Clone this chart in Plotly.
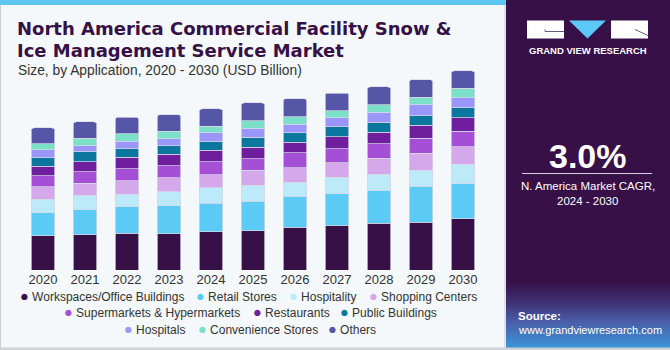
import plotly.graph_objects as go

# ---------------- data ----------------
years = ["2020", "2021", "2022", "2023", "2024", "2025", "2026", "2027", "2028", "2029", "2030"]
workspaces = [4.92, 5.11, 5.30, 5.26, 5.54, 5.69, 6.17, 6.41, 6.75, 6.94, 7.38]
retail = [3.33, 3.62, 3.86, 4.05, 4.15, 4.29, 4.48, 4.63, 4.68, 5.11, 5.06]
hospitality = [1.98, 2.07, 1.83, 1.98, 2.22, 2.31, 2.07, 2.36, 2.41, 2.36, 2.84]
shopping = [1.83, 1.74, 1.93, 2.07, 1.88, 2.12, 2.07, 2.12, 2.31, 2.51, 2.56]
supermarkets = [1.59, 1.69, 1.74, 1.74, 1.88, 1.69, 2.17, 2.02, 2.12, 2.12, 2.22]
restaurants = [1.35, 1.45, 1.64, 1.64, 1.64, 1.69, 1.49, 1.74, 1.64, 1.93, 1.93]
public_buildings = [1.25, 1.45, 1.25, 1.25, 1.25, 1.40, 1.40, 1.45, 1.45, 1.35, 1.49]
hospitals = [1.11, 0.87, 1.06, 1.01, 1.30, 1.30, 1.21, 1.30, 1.45, 1.59, 1.45]
convenience = [0.87, 1.06, 1.11, 1.06, 0.92, 1.11, 1.11, 1.01, 1.11, 1.06, 1.35]
others = [2.31, 2.36, 2.36, 2.41, 2.51, 2.56, 2.60, 2.56, 2.56, 2.56, 2.51]

series_names = ["Workspaces/Office Buildings", "Retail Stores", "Hospitality", "Shopping Centers",
                "Supermarkets & Hypermarkets", "Restaurants", "Public Buildings",
                "Hospitals", "Convenience Stores", "Others"]
series_values = [workspaces, retail, hospitality, shopping, supermarkets, restaurants,
                 public_buildings, hospitals, convenience, others]
colors = ["#371047", "#5BCBF5", "#BDEAF8", "#D5A8EC", "#A54FD6", "#6F1F9E",
          "#0B779E", "#9B96FA", "#7CE0C8", "#5556A5"]

highlight_year = "2022"
cagr_text = "3.0%"

# ---------------- layout geometry ----------------
W, H = 670, 350
ML, MR, MT, MB = 22, 186, 48, 80
PW, PH = W - ML - MR, H - MT - MB


def px(x):
    return (x - ML) / PW


def py(y):
    return (H - MB - y) / PH


fig = go.Figure()

for name, vals, col in zip(series_names, series_values, colors):
    fig.add_trace(go.Bar(
        x=years, y=vals, name=name, marker_color=col,
        marker_line=dict(color="rgba(215,215,230,0.9)", width=0.8),
        showlegend=False, hoverinfo="skip"))

# legend entries: one legend per entry so the spacing follows the reference
legend_pos = [  # (dot center x px, row center y px)
    (27, 296), (203, 296), (296, 296), (376, 296),
    (71, 312.5), (260, 312.5), (347, 312.5),
    (131, 329), (205, 329), (335, 329),
]
for i, (name, col) in enumerate(zip(series_names, colors)):
    lg = "legend" if i == 0 else f"legend{i + 1}"
    fig.add_trace(go.Scatter(
        x=[years[0]], y=[None], mode="markers",
        name=f'<span style="color:{col};font-size:14.5px">●</span> {name}',
        marker=dict(color="rgba(0,0,0,0)", size=0.1, line=dict(width=0)),
        legend=lg, showlegend=True, hoverinfo="skip"))

legend_layout = {}
for i, (cx, cy) in enumerate(legend_pos):
    lg = "legend" if i == 0 else f"legend{i + 1}"
    legend_layout[lg] = dict(
        xref="paper", yref="paper",
        x=px(cx - 47), y=py(cy), xanchor="left", yanchor="middle",
        bgcolor="rgba(0,0,0,0)", borderwidth=0,
        font=dict(family="Liberation Sans, Arial, sans-serif", size=12, color="#333333"),
        itemwidth=30, tracegroupgap=0)

shapes = []
# left panel background and border
shapes.append(dict(type="rect", xref="paper", yref="paper",
                   x0=px(0.5), x1=px(505), y0=py(348.5), y1=py(0),
                   fillcolor="#F4F8FB", line=dict(color="#CDD2D6", width=1.2), layer="below"))
# top stripe
shapes.append(dict(type="rect", xref="paper", yref="paper",
                   x0=px(0), x1=px(506), y0=py(5), y1=py(0),
                   fillcolor="#5CC6F0", line=dict(width=0), layer="below"))
# right dark panel
shapes.append(dict(type="rect", xref="paper", yref="paper",
                   x0=px(506), x1=px(670), y0=py(347), y1=py(0),
                   fillcolor="#371047", line=dict(width=0), layer="below"))


# gradient at bottom of right panel
def lerp(c1, c2, t):
    a = [int(c1[i:i + 2], 16) for i in (1, 3, 5)]
    b = [int(c2[i:i + 2], 16) for i in (1, 3, 5)]
    return "#%02x%02x%02x" % tuple(round(a[k] + (b[k] - a[k]) * t) for k in range(3))


stops = [(280, "#371047"), (300, "#3E2E70"), (320, "#4A5CA6"), (347, "#3C95DA")]
for yy in range(280, 347, 2):
    for (y0, c0), (y1, c1) in zip(stops[:-1], stops[1:]):
        if y0 <= yy < y1:
            col = lerp(c0, c1, (yy - y0) / (y1 - y0))
            break
    shapes.append(dict(type="rect", xref="paper", yref="paper",
                       x0=px(506), x1=px(670), y0=py(yy + 2), y1=py(yy),
                       fillcolor=col, line=dict(width=0), layer="below"))
# bottom grey border under right panel
shapes.append(dict(type="rect", xref="paper", yref="paper",
                   x0=px(0), x1=px(670), y0=py(350), y1=py(347.5),
                   fillcolor="#CDD2D6", line=dict(width=0), layer="below"))

# logo
shapes.append(dict(type="rect", xref="paper", yref="paper",
                   x0=px(527), x1=px(564), y0=py(38.5), y1=py(20.5),
                   fillcolor="white", line=dict(width=0)))
shapes.append(dict(type="rect", xref="paper", yref="paper",
                   x0=px(611), x1=px(648), y0=py(38.5), y1=py(20.5),
                   fillcolor="white", line=dict(width=0)))
shapes.append(dict(type="path", xref="paper", yref="paper",
                   path=f"M {px(569)} {py(20.5)} L {px(606)} {py(20.5)} L {px(587.5)} {py(38.5)} Z",
                   fillcolor="#5BC8F5", line=dict(width=0)))
shapes.append(dict(type="path", xref="paper", yref="paper",
                   path=f"M {px(545)} {py(29.5)} L {px(545)} {py(31.5)} L {px(564)} {py(31.5)}",
                   line=dict(color="#6B5A80", width=1)))
shapes.append(dict(type="line", xref="paper", yref="paper",
                   x0=px(635), x1=px(648), y0=py(29.5), y1=py(35.5),
                   line=dict(color="#6B5A80", width=1)))
# CAGR separator line
shapes.append(dict(type="line", xref="paper", yref="paper",
                   x0=px(522), x1=px(652), y0=py(173.5), y1=py(173.5),
                   line=dict(color="#D8D0E0", width=1)))

annotations = []
FONT = "Liberation Sans, Arial, sans-serif"


def text(x, y, s, size, color, bold=False, xanchor="left", yanchor="middle", family=FONT):
    annotations.append(dict(
        xref="paper", yref="paper", x=px(x), y=py(y), text=f"<b>{s}</b>" if bold else s,
        showarrow=False, xanchor=xanchor, yanchor=yanchor,
        font=dict(family=family, size=size, color=color)))


TFONT = "DejaVu Sans, Liberation Sans, sans-serif"
text(15, 28.5, "North America Commercial Facility Snow &", 18, "#361046", bold=True, family=TFONT)
text(15, 50, "Ice Management Service Market", 18, "#361046", bold=True, family=TFONT)
text(16, 70.5, "Size, by Application, 2020 - 2030 (USD Billion)", 13.8, "#333333")
text(587.5, 51, "GRAND VIEW RESEARCH", 9.5, "white", bold=True, xanchor="center")
text(587.5, 156, cagr_text, 34, "white", bold=True, xanchor="center")
text(587.5, 185.5, "N. America Market CAGR,", 11.5, "white", xanchor="center")
text(587.5, 201, "2024 - 2030", 11.5, "white", xanchor="center")
text(516, 316, "Source:", 11.5, "white", bold=True)
text(516, 330, "www.grandviewresearch.com", 11, "white")

# total label above highlighted year
idx = years.index(highlight_year)
total = sum(v[idx] for v in series_values)
annotations.append(dict(
    x=highlight_year, y=total, xref="x", yref="y", text=f"${total:.1f}B",
    showarrow=False, yanchor="bottom", yshift=6,
    font=dict(family=FONT, size=14, color="#333333")))

fig.update_layout(
    width=W, height=H,
    margin=dict(l=ML, r=MR, t=MT, b=MB, autoexpand=False),
    paper_bgcolor="white", plot_bgcolor="rgba(0,0,0,0)",
    barmode="stack", bargap=0.43, barcornerradius=3,
    xaxis=dict(type="category", categoryorder="array", categoryarray=years,
               range=[-0.5, len(years) - 0.5], autorange=False,
               showgrid=False, showline=False, zeroline=False, ticks="",
               tickfont=dict(family=FONT, size=13, color="#333333"), fixedrange=True),
    yaxis=dict(range=[0, PH / 6.914], autorange=False, visible=False, showgrid=False, fixedrange=True),
    shapes=shapes, annotations=annotations,
    **legend_layout,
)

fig.write_html("out.html")
